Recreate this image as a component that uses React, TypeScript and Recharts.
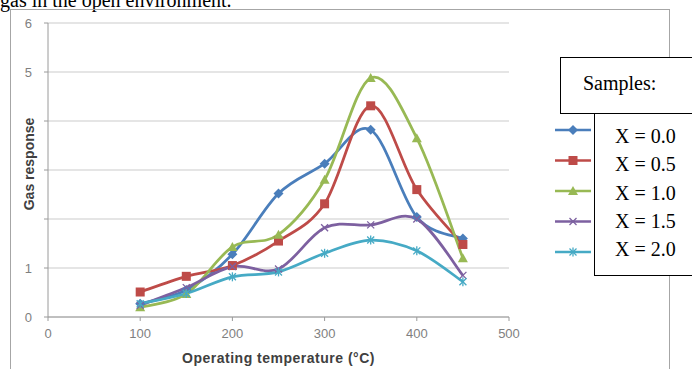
import { Line, LineChart, CartesianGrid, XAxis, YAxis } from 'recharts';

// Gas response vs operating temperature, five samples (Excel-style smoothed lines).

const temps = [100, 150, 200, 250, 300, 350, 400, 450];
const x00 = [0.27, 0.55, 1.28, 2.52, 3.13, 3.82, 2.04, 1.6];
const x05 = [0.51, 0.83, 1.05, 1.55, 2.31, 4.31, 2.6, 1.48];
const x10 = [0.2, 0.47, 1.43, 1.68, 2.8, 4.88, 3.65, 1.2];
const x15 = [0.24, 0.6, 1.03, 0.98, 1.82, 1.88, 2.0, 0.85];
const x20 = [0.27, 0.48, 0.82, 0.92, 1.3, 1.57, 1.35, 0.72];
const sampleNames = ['X = 0.0', 'X = 0.5', 'X = 1.0', 'X = 1.5', 'X = 2.0'];
const xTicks = [0, 100, 200, 300, 400, 500];
const yTicks = [0, 1, 2, 3, 4, 5, 6];
const shownY = [0, 1, 5, 6];

const series = [
  { key: 'x00', values: x00, color: '#4a7ebb', marker: 'diamond' },
  { key: 'x05', values: x05, color: '#be4b48', marker: 'square' },
  { key: 'x10', values: x10, color: '#98b954', marker: 'triangle' },
  { key: 'x15', values: x15, color: '#7d60a0', marker: 'cross' },
  { key: 'x20', values: x20, color: '#46aac5', marker: 'star' },
];

const data = temps.map((t, i) => {
  const row: Record<string, number> = { t };
  series.forEach((s) => (row[s.key] = s.values[i]));
  return row;
});

// catmull-rom, close to what Excel's "smoothed line" does
function smooth(context: any) {
  let pts: number[][] = [];
  return {
    areaStart() {},
    areaEnd() {},
    lineStart() {
      pts = [];
    },
    point(x: number, y: number) {
      pts.push([+x, +y]);
    },
    lineEnd() {
      if (!pts.length) return;
      context.moveTo(pts[0][0], pts[0][1]);
      for (let i = 0; i < pts.length - 1; i++) {
        const p0 = pts[i - 1] || pts[i];
        const p1 = pts[i];
        const p2 = pts[i + 1];
        const p3 = pts[i + 2] || p2;
        context.bezierCurveTo(
          p1[0] + (p2[0] - p0[0]) / 6,
          p1[1] + (p2[1] - p0[1]) / 6,
          p2[0] - (p3[0] - p1[0]) / 6,
          p2[1] - (p3[1] - p1[1]) / 6,
          p2[0],
          p2[1],
        );
      }
    },
  };
}

function Marker({ cx, cy, kind, color }: { cx: number; cy: number; kind: string; color: string }) {
  if (cx == null || cy == null) return null;
  if (kind === 'diamond')
    return <polygon points={`${cx},${cy - 5} ${cx + 5},${cy} ${cx},${cy + 5} ${cx - 5},${cy}`} fill={color} />;
  if (kind === 'square') return <rect x={cx - 4.5} y={cy - 4.5} width={9} height={9} fill={color} />;
  if (kind === 'triangle')
    return <polygon points={`${cx},${cy - 5} ${cx + 5},${cy + 4} ${cx - 5},${cy + 4}`} fill={color} />;
  const d = 3.5;
  return (
    <g stroke={color} strokeWidth={1.3}>
      <line x1={cx - d} y1={cy - d} x2={cx + d} y2={cy + d} />
      <line x1={cx - d} y1={cy + d} x2={cx + d} y2={cy - d} />
      {kind === 'star' && <line x1={cx} y1={cy - d - 1} x2={cx} y2={cy + d + 1} />}
    </g>
  );
}

// legend swatches; their labels are the text box on the right
function LegendRows() {
  return (
    <svg width={40} height={140} style={{ position: 'absolute', left: 553, top: 120 }}>
      {series.map((s, i) => {
        const y = 10 + i * 30.5;
        return (
          <g key={s.key}>
            <line x1={2} y1={y} x2={38} y2={y} stroke={s.color} strokeWidth={2.5} />
            <Marker cx={20} cy={y} kind={s.marker} color={s.color} />
          </g>
        );
      })}
    </svg>
  );
}

const tickStyle = { fill: '#7f7f7f', fontSize: 13, fontFamily: 'Liberation Sans' };
const xTitleStyle = {
  fill: '#404040',
  fontSize: 14,
  fontWeight: 700,
  fontFamily: 'Liberation Sans',
  letterSpacing: 0.5,
  whiteSpace: 'pre',
};
const yTitleStyle = { fill: '#404040', fontSize: 14, fontWeight: 700, fontFamily: 'Liberation Sans' };

export default function App() {
  return (
    <div style={{ position: 'absolute', left: 0, top: 0, width: 692, height: 369, overflow: 'hidden', background: '#fff' }}>
      <svg width={692} height={20} style={{ position: 'absolute', left: 0, top: 0 }}>
        <text x={0} y={7} fontSize={20} fontFamily="Liberation Serif" fill="#000">
          gas in the open environment.
        </text>
      </svg>
      <div
        style={{
          position: 'absolute',
          left: 10,
          top: 9,
          width: 660,
          height: 380,
          border: '1px solid #a6a6a6',
          boxSizing: 'border-box',
        }}
      />
      <div style={{ position: 'absolute', left: 0, top: 0 }}>
        <LineChart width={692} height={369} data={data} margin={{ top: 23, right: 183, bottom: 22, left: 10 }}>
          <CartesianGrid vertical={false} stroke="#cbcbcb" />
          <XAxis
            dataKey="t"
            type="number"
            domain={[0, 500]}
            ticks={xTicks}
            height={30}
            tick={tickStyle}
            tickSize={4}
            tickMargin={8}
            stroke="#9a9a9a"
            label={{ value: 'Operating  temperature (°C)', position: 'insideBottom', offset: -16, style: xTitleStyle }}
          />
          <YAxis
            type="number"
            domain={[0, 6]}
            ticks={yTicks}
            width={38}
            tick={tickStyle}
            tickSize={4}
            tickMargin={12}
            stroke="#9a9a9a"
            tickFormatter={(v: number) => (shownY.includes(v) ? String(v) : '')}
            label={{ value: 'Gas response', angle: -90, position: 'center', dx: 0, dy: -6, style: yTitleStyle }}
          />
          {series.map((s, i) => (
            <Line
              key={s.key}
              dataKey={s.key}
              name={sampleNames[i]}
              type={smooth as any}
              stroke={s.color}
              strokeWidth={2.75}
              dot={(p: any) => <Marker key={`${s.key}-${p.index}`} cx={p.cx} cy={p.cy} kind={s.marker} color={s.color} />}
              activeDot={false}
              isAnimationActive={false}
            />
          ))}
        </LineChart>
      </div>
      <LegendRows />
      <div
        style={{
          position: 'absolute',
          left: 560,
          top: 57,
          width: 200,
          height: 57,
          border: '1px solid #000',
          boxSizing: 'border-box',
          background: '#fff',
          fontFamily: 'Liberation Serif',
          fontSize: 20,
          lineHeight: '20px',
          paddingLeft: 22,
          paddingTop: 15,
        }}
      >
        Samples:
      </div>
      <div
        style={{
          position: 'absolute',
          left: 594,
          top: 113,
          width: 200,
          height: 163,
          border: '1px solid #000',
          boxSizing: 'border-box',
          background: '#fff',
          fontFamily: 'Liberation Serif',
          fontSize: 20,
          lineHeight: '28.3px',
          paddingLeft: 20,
          paddingTop: 8,
        }}
      >
        {sampleNames.map((n) => (
          <div key={n}>{n}</div>
        ))}
      </div>
    </div>
  );
}
